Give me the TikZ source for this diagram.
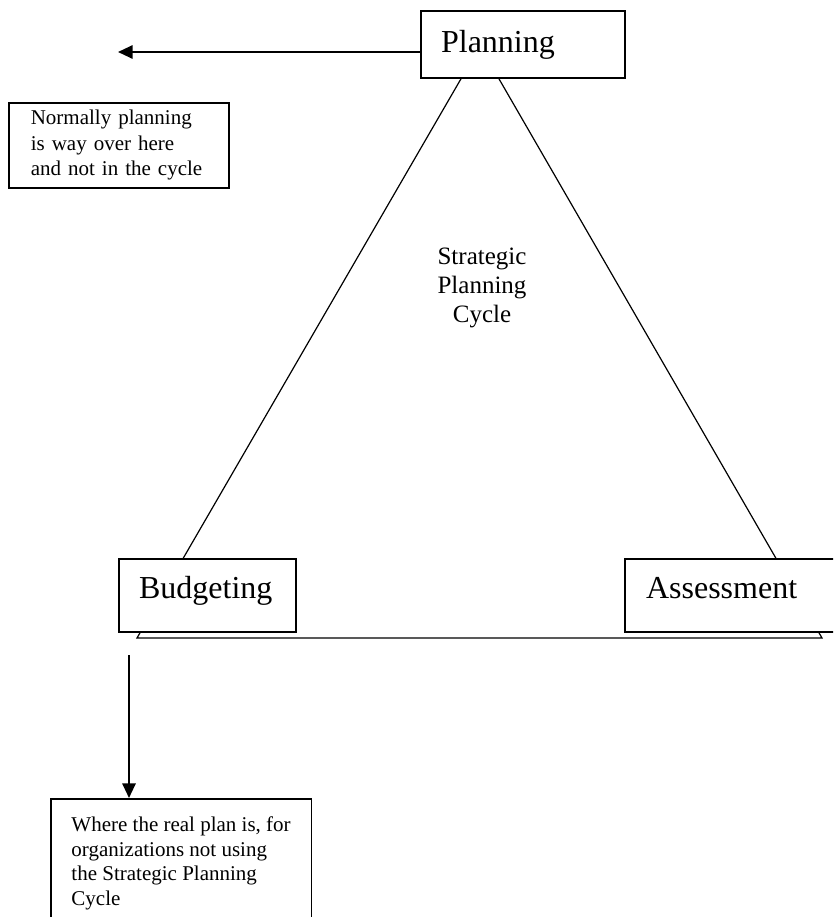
\documentclass[tikz,border=0pt]{standalone}
\usepackage{fontspec}
\setmainfont{Liberation Serif}
\usetikzlibrary{arrows.meta,calc}
\begin{document}
\begin{tikzpicture}[x=0.75pt,y=-0.75pt,
  bigbox/.style={draw,line width=1.6pt,fill=white,anchor=north west,align=left,
    font=\fontsize{24}{28}\selectfont,inner ysep=0pt},
  smallbox/.style={draw,line width=1.2pt,fill=white,anchor=north west,align=left,
    font=\fontsize{15.75}{19}\selectfont},
  tri/.style={line width=0.9pt},
  arr/.style={line width=1.5pt,-{Triangle[length=11pt,width=10pt]}}]
\useasboundingbox (0,0) rectangle (833,917);
\clip (0,0) rectangle (833,917);

% triangle (apex hidden behind the Planning box)
\coordinate (apex) at (480,46);
\coordinate (bl) at (137,638);
\coordinate (br) at (822,638);
\draw[tri] (apex) -- (bl) -- (br) -- cycle;

\node (cyc) [anchor=north,align=center,inner sep=0pt,
  font=\fontsize{18.75}{21.75}\selectfont] at (482,248)
  {Strategic\\Planning\\Cycle};

% boxes
\node (plan) [bigbox,minimum width=153pt,minimum height=50.25pt,
  inner xsep=15pt,text width=123pt] at (420,10) {Planning};
\node (budg) [bigbox,minimum width=132.75pt,minimum height=54.75pt,
  inner xsep=15pt,text width=102.75pt,text height=16.4pt,text depth=12.5pt]
  at (118,558) {Budgeting};
\node (asse) [bigbox,minimum width=162pt,minimum height=54.75pt,
  inner xsep=15.75pt,text width=130.5pt,text height=16.4pt,text depth=12.5pt]
  at (624,558) {Assessment};
\node (norm) [smallbox,minimum width=165pt,minimum height=63.75pt,
  inner xsep=16.5pt,text width=132pt] at (8,102)
  {Normally planning\\is way over here\\and not in the cycle};
\node (real) [smallbox,font=\fontsize{15.75}{18.5}\selectfont,
  inner xsep=15.5pt,inner ysep=13.5pt]
  at (50,798)
  {Where the real plan is, for\\organizations not using\\the Strategic Planning\\Cycle};

% connectors
\coordinate (lend) at (118,52);
\draw[arr] (lend -| plan.west) -- (lend);
\coordinate (dstart) at (129,655);
\draw[arr] (dstart) -- (dstart |- real.north);
\end{tikzpicture}
\end{document}
